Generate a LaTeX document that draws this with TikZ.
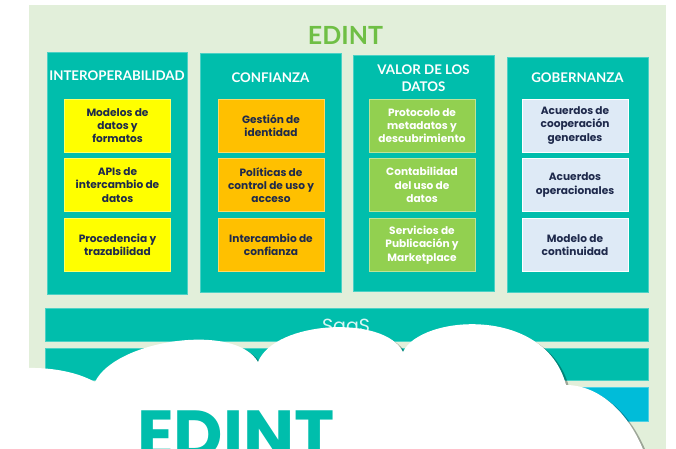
\documentclass[tikz,border=0pt]{standalone}
\usepackage{fontspec}
\setmainfont{Poppins}
\newfontfamily\titlefont{Lato}
\usetikzlibrary{shadows}

\definecolor{bggreen}{HTML}{E2EFDA}
\definecolor{tealbox}{HTML}{00BEAC}
\definecolor{yellowbox}{HTML}{FFFF00}
\definecolor{orangebox}{HTML}{FFC000}
\definecolor{greenbox}{HTML}{92D050}
\definecolor{bluebox}{HTML}{DEEAF6}
\definecolor{cyanbar}{HTML}{00BCD9}
\definecolor{navytext}{HTML}{1F2A4C}
\definecolor{titlegreen}{HTML}{6FBF45}

\tikzset{
  pillar/.style={fill=tealbox, draw=tealbox!70!white, line width=0.6pt, inner sep=0pt},
  pillartitle/.style={font=\titlefont\bfseries\fontsize{13.3}{16}\selectfont, text=white, align=center},
  item/.style={minimum width=106pt, minimum height=53pt, inner sep=0pt, align=center,
               line width=0.6pt, font=\bfseries\fontsize{10.6}{13.3}\selectfont},
  yellowitem/.style={item, fill=yellowbox, draw=yellowbox!60!white, text=navytext},
  orangeitem/.style={item, fill=orangebox, draw=orangebox!60!white, text=navytext},
  greenitem/.style={item, fill=greenbox, draw=greenbox!60!white, text=white},
  blueitem/.style={item, fill=bluebox, draw=white, text=navytext},
  layer/.style={minimum width=603pt, inner sep=0pt, draw=tealbox!70!white, line width=0.6pt}
}

\begin{document}
\begin{tikzpicture}[x=1pt, y=-1pt]
    \useasboundingbox (0,0) rectangle (676,448);
    \clip (0,0) rectangle (676,448);

    \fill[bggreen] (29,5) rectangle (666,460);
    \node (title) at (345.5,35) [font=\titlefont\bfseries\fontsize{25}{30}\selectfont, text=titlegreen] {EDINT};

    % pillars
    \node (interop) at (117,173)   [pillar, minimum width=140pt, minimum height=242pt] {};
    \node (confianza) at (270.5,172.5) [pillar, minimum width=141pt, minimum height=239pt] {};
    \node (valor) at (423.5,173)   [pillar, minimum width=141pt, minimum height=236pt] {};
    \node (gobernanza) at (577.5,174.5) [pillar, minimum width=141pt, minimum height=235pt] {};

    \node (interopT) at (117,76)     [pillartitle] {INTEROPERABILIDAD};
    \node (confianzaT) at (270.5,78) [pillartitle] {CONFIANZA};
    \node (valorT) at (423.5,78.5)   [pillartitle, font=\titlefont\bfseries\fontsize{13.3}{17}\selectfont] {VALOR DE LOS\\DATOS};
    \node (gobernanzaT) at (577.5,78) [pillartitle] {GOBERNANZA};

    % building blocks
    \node (modelos) at (117.5,125.5) [yellowitem] {Modelos de\\datos y\\formatos};
    \node (apis) at (117.5,185)      [yellowitem] {APIs de\\intercambio de\\datos};
    \node (proced) at (117.5,245)    [yellowitem] {Procedencia y\\trazabilidad};

    \node (gestion) at (271,125.5)   [orangeitem] {Gestión de\\identidad};
    \node (politicas) at (271,185)   [orangeitem] {Políticas de\\control de uso y\\acceso};
    \node (intercambio) at (271,245) [orangeitem] {Intercambio de\\confianza};

    \node (protocolo) at (422,125.5) [greenitem] {Protocolo de\\metadatos y\\descubrimiento};
    \node (contab) at (422,185)      [greenitem] {Contabilidad\\del uso de\\datos};
    \node (servicios) at (422,245)   [greenitem] {Servicios de\\Publicación y\\Marketplace};

    \node (acuerdosG) at (575,125.5) [blueitem] {Acuerdos de\\cooperación\\generales};
    \node (acuerdosO) at (575,185)   [blueitem] {Acuerdos\\operacionales};
    \node (continuidad) at (575,245) [blueitem] {Modelo de\\continuidad};

    % layers
    \node (saas) at (346.5,324.5) [layer, fill=tealbox, minimum height=33pt] {};
    \node (saasT) at (346,326) [font=\fontsize{19}{22}\selectfont, text=white!85!tealbox] {SaaS};
    \node (paas) at (346.5,364) [layer, fill=tealbox, minimum height=32pt] {};
    \node (iaas) at (346.5,404) [layer, fill=cyanbar, draw=cyanbar!70!white, minimum height=34pt] {};

    % cloud
    \fill[white, drop shadow={shadow xshift=3pt, shadow yshift=-2pt, opacity=0.3, fill=black}]
      (-10,372) .. controls (30,364) and (70,368) .. (95,382)
      .. controls (115,340) and (235,322) .. (258,362)
      .. controls (275,320) and (385,315) .. (403,352)
      .. controls (420,315) and (545,305) .. (566,385)
      .. controls (600,385) and (635,415) .. (650,470)
      -- (-10,470) -- cycle;
    \node (cloudT) at (137,458) [anchor=base west, inner sep=0pt, text=tealbox, font=\bfseries\fontsize{68}{80}\selectfont] {EDINT};
\end{tikzpicture}
\end{document}
